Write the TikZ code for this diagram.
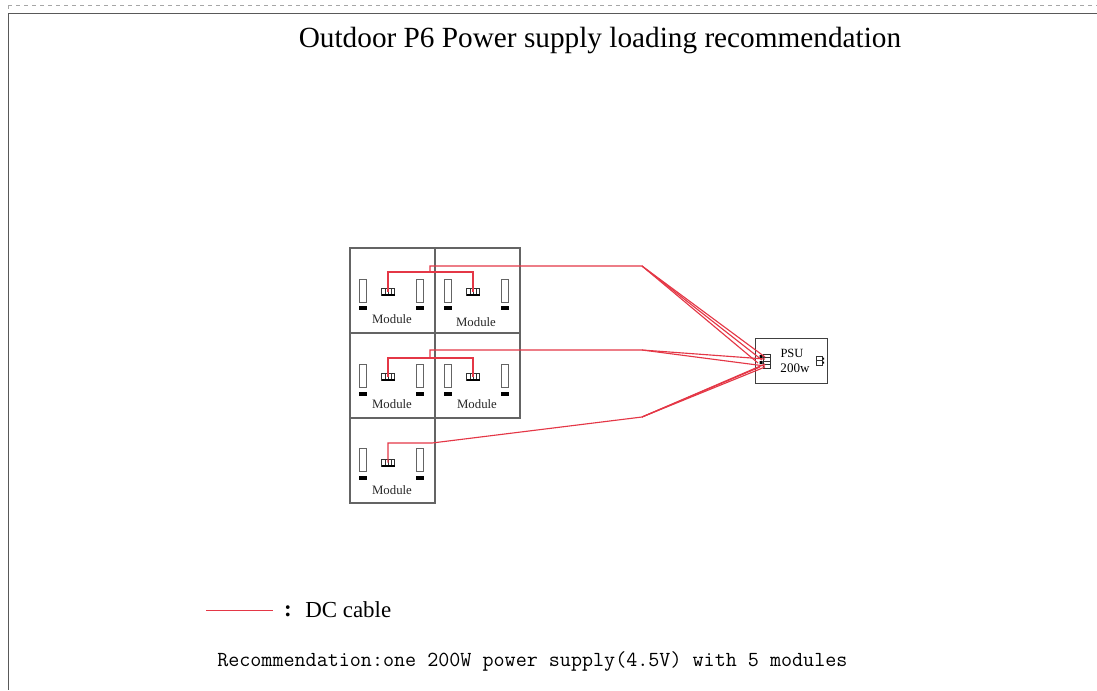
\documentclass[tikz,border=0pt]{standalone}
\usepackage{fontspec}
\setmainfont{Liberation Serif}
\definecolor{cable}{RGB}{228,55,70}
\definecolor{boxline}{RGB}{100,100,100}
\tikzset{
  x=0.75pt,y=-0.75pt,
  modbox/.style={draw=boxline,line width=1.1pt,minimum width=63.75pt,minimum height=63.75pt,inner sep=0pt},
  slotbox/.style={draw=boxline,line width=0.7pt,fill=white,minimum width=5.25pt,minimum height=17.25pt,inner sep=0pt},
  barbox/.style={fill=black,minimum width=6pt,minimum height=3pt,inner sep=0pt},
  plug/.style={draw=black!80,line width=0.5pt,fill=white,minimum width=9.75pt,minimum height=5.25pt,inner sep=0pt},
  modtext/.style={font=\fontsize{9.6}{11}\selectfont,inner sep=0pt,text=black!85},
  cableline/.style={draw=cable,line width=0.85pt},
}
\newcommand{\modparts}[9]{%
  \node[slotbox] (#1sl) at (#2,#5) {};
  \node[slotbox] (#1sr) at (#4,#5) {};
  \node[barbox] (#1bl) at (#2,#6) {};
  \node[barbox] (#1br) at (#4,#6) {};
  \node[plug] (#1p) at (#3,#7) {};
  \draw[black!80,line width=0.4pt] (#3-3.2,#7-3.5) -- (#3-3.2,#7+3.5) (#3,#7-3.5) -- (#3,#7+3.5) (#3+3.2,#7-3.5) -- (#3+3.2,#7+3.5);
  \draw[black,line width=1pt] (#3-6.5,#7+3.5) -- (#3+6.5,#7+3.5);
  \node[modtext] (#1t) at (#8,#9) {Module};
}
\begin{document}
\begin{tikzpicture}
\useasboundingbox (0,0) rectangle (1097,690);
% page frame
\draw[black!35,dashed,line width=0.5pt] (8,5) -- (1097,5);
\draw[black!35,dashed,line width=0.5pt] (8,5) -- (8,13);
\draw[black!65,line width=1pt] (1097,13.5) -- (8.5,13.5) -- (8.5,690);
% title
\node[font=\fontsize{21.95}{26}\selectfont,inner sep=0pt] (title) at (600,41) {Outdoor P6 Power supply loading recommendation};
% modules
\node[modbox] (m1) at (392.5,290.5) {};
\node[modbox] (m2) at (477.5,290.5) {};
\node[modbox] (m3) at (392.5,375.5) {};
\node[modbox] (m4) at (477.5,375.5) {};
\node[modbox] (m5) at (392.5,460.5) {};
\modparts{a}{363}{388}{419.5}{290.5}{308}{291.5}{392}{319}
\modparts{b}{448}{473}{504.5}{290.5}{308}{291.5}{476}{322}
\modparts{c}{363}{388}{419.5}{375.5}{393.5}{376.5}{392}{404}
\modparts{d}{448}{473}{504.5}{375.5}{393.5}{376.5}{477}{404}
\modparts{e}{363}{388}{419.5}{460}{478}{462.5}{392}{490}
% PSU
\node[draw=black!75,line width=0.65pt,minimum width=54pt,minimum height=33.75pt,inner sep=0pt] (psu) at (791,360.5) {};
\node[font=\fontsize{9.4}{11}\selectfont,inner sep=0pt] (psut) at (792,353) {PSU};
\node[font=\fontsize{9.8}{11}\selectfont,inner sep=0pt] (psuw) at (795,368) {200w};
\node[draw=black!80,line width=0.5pt,fill=white,minimum width=5.25pt,minimum height=10.5pt,inner sep=0pt] (pin) at (766.5,361) {};
\draw[black!80,line width=0.4pt] (763,357.5) -- (770,357.5) (763,361) -- (770,361) (763,364.5) -- (770,364.5);
\fill[black] (759.5,355) rectangle (762.5,358) (759.5,361) rectangle (762.5,364);
\node[draw=black!80,line width=0.5pt,fill=white,minimum width=4.5pt,minimum height=6.75pt,inner sep=0pt] (pout) at (819.5,360.5) {};
\draw[black!80,line width=0.4pt] (816.5,360.5) -- (822.5,360.5);
\fill[black] (822.5,357.5) rectangle (824,359.5) (822.5,361.5) rectangle (824,363.5);
% cables
\coordinate (j1) at (430,272);
\coordinate (j2) at (430,358);
\coordinate (k1) at (642,266);
\coordinate (k2) at (642,350);
\coordinate (k3) at (642,417);
\draw[cableline] (ap.center) -- ++(0,-19.5) -- (j1);
\draw[cableline] (j1) -- ++(43,0) -- (bp.center);
\draw[cableline] (cp.center) -- ++(0,-18.5) -- (j2);
\draw[cableline] (j2) -- ++(43,0) -- (dp.center);
\draw[cableline] (j1) -- (430,266) -- (k1) -- (765,357);
\draw[cableline] (k1) -- (762,360);
\draw[cableline] (k1) -- (758,363);
\draw[cableline] (j2) -- (430,350) -- (k2) -- (765,359);
\draw[cableline] (k2) -- (765,366);
\draw[cableline] (ep.center) -- ++(0,-19.5) -- (432,443) -- (k3) -- (765,364);
\draw[cableline] (k3) -- (765,367);
\draw[cableline] (k3) -- (760,367);
% legend
\coordinate (l1) at (206,610.5);
\coordinate (l2) at (273,610.5);
\draw[cableline,line width=0.7pt] (l1) -- (l2);
\node[font=\fontsize{17.2}{20}\selectfont,inner sep=0pt,anchor=center] (colon) at (288,611) {\textbf{:}};
\node[font=\fontsize{17.2}{20}\selectfont,anchor=west,inner sep=0pt] (leg) at (305,610) {DC cable};
\node[font=\ttfamily\fontsize{16.1}{18}\selectfont,anchor=west,inner sep=0pt] (rec) at (217,661) {Recommendation:one 200W power supply(4.5V) with 5 modules};
\end{tikzpicture}
\end{document}
